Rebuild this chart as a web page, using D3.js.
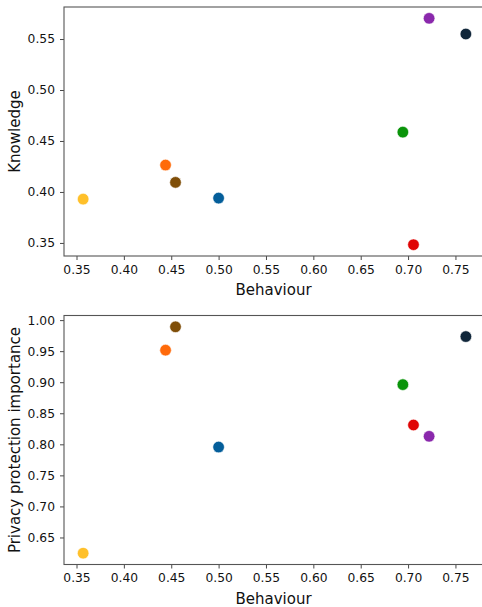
<!DOCTYPE html>
<html>
<head>
<meta charset="utf-8">
<script src="https://cdn.jsdelivr.net/npm/d3@7"></script>
<style>
  html, body { margin: 0; padding: 0; background: #fff; }
  svg { display: block; }
  text { font-family: "DejaVu Sans", sans-serif; fill: #111; }
</style>
</head>
<body>
<svg id="chart" width="482" height="607"></svg>
<script>
// One colour per group, shared by both panels
const groups = ["yellow", "orange", "brown", "blue", "green", "red", "purple", "navy"];
const colors = ["#FFC02A", "#FF6A0A", "#7F4E08", "#045E9A", "#0A940A", "#E00505", "#8A28AC", "#10263A"];

// Behaviour score for each group (x in both panels)
const behaviour = [0.357, 0.444, 0.4545, 0.500, 0.6945, 0.7057, 0.7222, 0.761];
// Knowledge score (top panel)
const knowledge = [0.393, 0.4264, 0.4094, 0.394, 0.4587, 0.3483, 0.5703, 0.5549];
// Privacy protection importance (bottom panel)
const privacy = [0.6247, 0.9516, 0.9892, 0.7956, 0.8961, 0.8311, 0.8129, 0.9735];

const xTicks = [0.35, 0.40, 0.45, 0.50, 0.55, 0.60, 0.65, 0.70, 0.75];
const knowledgeTicks = [0.35, 0.40, 0.45, 0.50, 0.55];
const privacyTicks = [0.65, 0.70, 0.75, 0.80, 0.85, 0.90, 0.95, 1.00];

const svg = d3.select("#chart");

// Domain padded by 5% of the data range on each side
function padded(vals) {
  const [lo, hi] = d3.extent(vals);
  const m = (hi - lo) * 0.05;
  return [lo - m, hi + m];
}

function panel(cfg) {
  const { top, bottom, yVals, yTicks, yLabel, labelX } = cfg;
  const left = 64, right = 485;
  const x = d3.scaleLinear().domain(padded(behaviour)).range([left, right]);
  const y = d3.scaleLinear().domain(padded(yVals)).range([bottom, top]);
  const g = svg.append("g");

  // x axis
  const xa = g.append("g")
    .attr("transform", `translate(0,${bottom})`)
    .call(d3.axisBottom(x).tickValues(xTicks).tickFormat(d3.format(".2f")).tickSizeOuter(0).tickSize(4).tickPadding(5));
  xa.select(".domain").remove();
  xa.selectAll("line").attr("stroke", "#333").attr("stroke-width", 0.9);
  xa.selectAll("text").attr("font-size", 12.3).attr("fill", "#111")
    .attr("font-family", "DejaVu Sans, sans-serif");

  // y axis
  const ya = g.append("g")
    .attr("transform", `translate(${left},0)`)
    .call(d3.axisLeft(y).tickValues(yTicks).tickFormat(d3.format(".2f")).tickSizeOuter(0).tickSize(4).tickPadding(5));
  ya.select(".domain").remove();
  ya.selectAll("line").attr("stroke", "#333").attr("stroke-width", 0.9);
  ya.selectAll("text").attr("font-size", 12.3).attr("fill", "#111")
    .attr("font-family", "DejaVu Sans, sans-serif");

  // frame
  g.append("rect")
    .attr("x", left).attr("y", top)
    .attr("width", right - left).attr("height", bottom - top)
    .attr("fill", "none").attr("stroke", "#555").attr("stroke-width", 1.1);

  // points
  g.append("g").selectAll("circle")
    .data(groups.map((k, i) => ({ k, bx: behaviour[i], v: yVals[i], c: colors[i] })))
    .join("circle")
    .attr("cx", d => x(d.bx))
    .attr("cy", d => y(d.v))
    .attr("r", 5.8)
    .attr("fill", d => d.c)
    .attr("stroke", "#fff")
    .attr("stroke-width", 0.6);

  // axis titles
  g.append("text")
    .attr("x", (left + right) / 2 - 1)
    .attr("y", bottom + 39)
    .attr("text-anchor", "middle")
    .attr("font-size", 15)
    .text("Behaviour");

  g.append("text")
    .attr("transform", `translate(${labelX},${(top + bottom) / 2}) rotate(-90)`)
    .attr("text-anchor", "middle")
    .attr("font-size", 15)
    .text(yLabel);
}

panel({ top: 7, bottom: 256, yVals: knowledge, yTicks: knowledgeTicks, yLabel: "Knowledge", labelX: 20 });
panel({ top: 315.5, bottom: 564.5, yVals: privacy, yTicks: privacyTicks, yLabel: "Privacy protection importance", labelX: 20 });
</script>
</body>
</html>
